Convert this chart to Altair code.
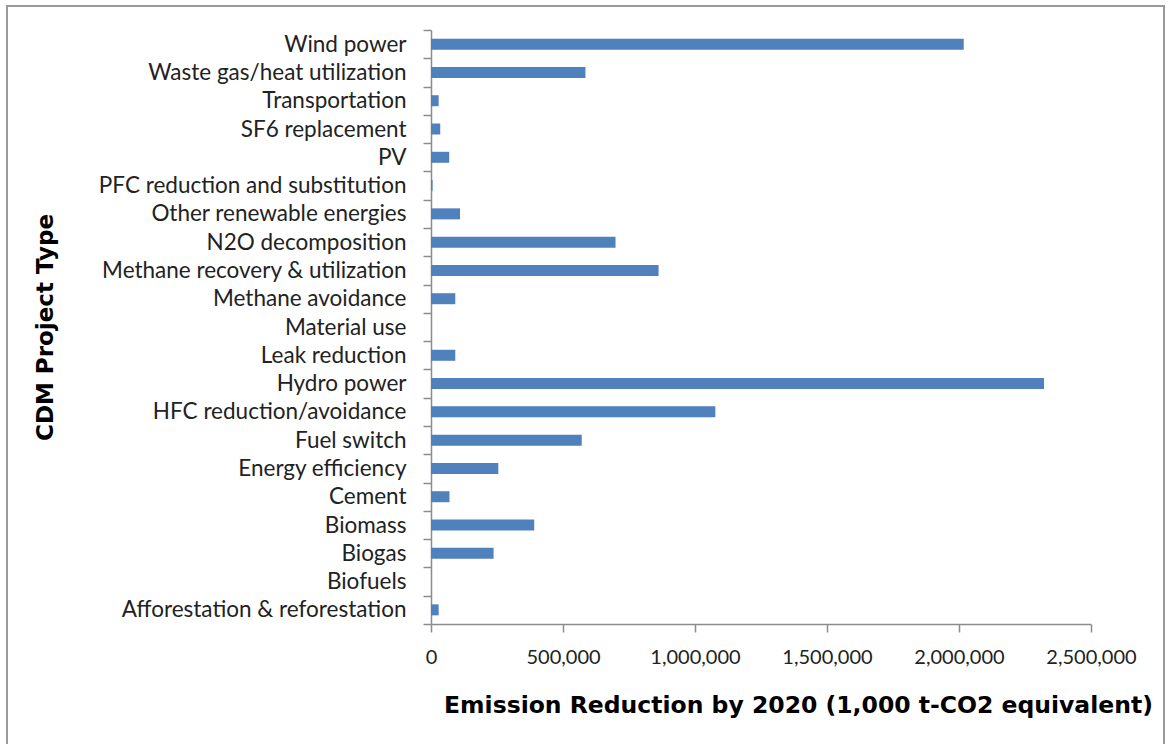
import altair as alt
import pandas as pd

# CDM project types, listed top to bottom as drawn
project_types = [
    "Wind power",
    "Waste gas/heat utilization",
    "Transportation",
    "SF6 replacement",
    "PV",
    "PFC reduction and substitution",
    "Other renewable energies",
    "N2O decomposition",
    "Methane recovery & utilization",
    "Methane avoidance",
    "Material use",
    "Leak reduction",
    "Hydro power",
    "HFC reduction/avoidance",
    "Fuel switch",
    "Energy efficiency",
    "Cement",
    "Biomass",
    "Biogas",
    "Biofuels",
    "Afforestation & reforestation",
]

# Emission reduction by 2020 (1,000 t-CO2 equivalent)
reductions = [
    2018000,
    585000,
    29000,
    35000,
    69000,
    6000,
    110000,
    699000,
    862000,
    92000,
    0,
    92000,
    2322000,
    1077000,
    571000,
    255000,
    70000,
    391000,
    237000,
    0,
    29000,
]

x_ticks = [0, 500000, 1000000, 1500000, 2000000, 2500000]

df = pd.DataFrame({"type": project_types, "reduction": reductions})

PLOT_W = 660
PLOT_H = 594
PAD_L = 431
PAD_T = 30

axis_gray = "#8c8c8c"

bars = (
    alt.Chart(df)
    .mark_bar(height=11, color="#4F81BD")
    .encode(
        x=alt.X(
            "reduction:Q",
            scale=alt.Scale(domain=[0, 2500000], nice=False),
            axis=alt.Axis(
                values=x_ticks,
                format=",d",
                grid=False,
                domainColor=axis_gray,
                domainWidth=1.5,
                tickColor=axis_gray,
                tickWidth=1.5,
                tickSize=8,
                labelFont="Lato",
                labelFontSize=20,
                labelColor="#222222",
                labelPadding=15,
                labelFlush=False,
                title="Emission Reduction by 2020 (1,000 t-CO2 equivalent)",
                titleFont="DejaVu Sans",
                titleFontWeight="bold",
                titleFontSize=23.5,
                titleColor="#000000",
                titleX=367,
                titleY=81,
                titleAlign="center",
                titleBaseline="middle",
            ),
        ),
        y=alt.Y(
            "type:N",
            sort=project_types,
            scale=alt.Scale(paddingInner=0, paddingOuter=0),
            axis=alt.Axis(
                grid=False,
                tickBand="extent",
                domainColor=axis_gray,
                domainWidth=1.5,
                tickColor=axis_gray,
                tickWidth=1.5,
                tickSize=8,
                labelFont="Lato",
                labelFontSize=22.5,
                labelLimit=400,
                labelColor="#222222",
                labelPadding=17,
                title="CDM  Project Type",
                titleFont="DejaVu Sans",
                titleFontWeight="bold",
                titleFontSize=23,
                titleColor="#000000",
                titleAngle=270,
                titleX=-386,
                titleY=297,
                titleAlign="center",
                titleBaseline="middle",
            ),
        ),
    )
)

# Outer frame around the whole figure
frame = (
    alt.Chart(alt.Data(values=[{}]))
    .mark_rect(fill=None, stroke="#9a9a9a", strokeWidth=2)
    .encode(
        x=alt.value(7 - PAD_L),
        x2=alt.value(1164 - PAD_L),
        y=alt.value(6 - PAD_T),
        y2=alt.value(780 - PAD_T),
    )
)

chart = (
    alt.layer(frame, bars)
    .properties(
        width=PLOT_W,
        height=PLOT_H,
        autosize=alt.AutoSizeParams(type="none"),
        padding={"left": PAD_L, "top": PAD_T, "right": 1170 - PAD_L - PLOT_W, "bottom": 744 - PAD_T - PLOT_H},
        background="white",
    )
    .configure_view(stroke=None)
)

chart.save("out.html", embed_options={"renderer": "svg", "actions": False})
